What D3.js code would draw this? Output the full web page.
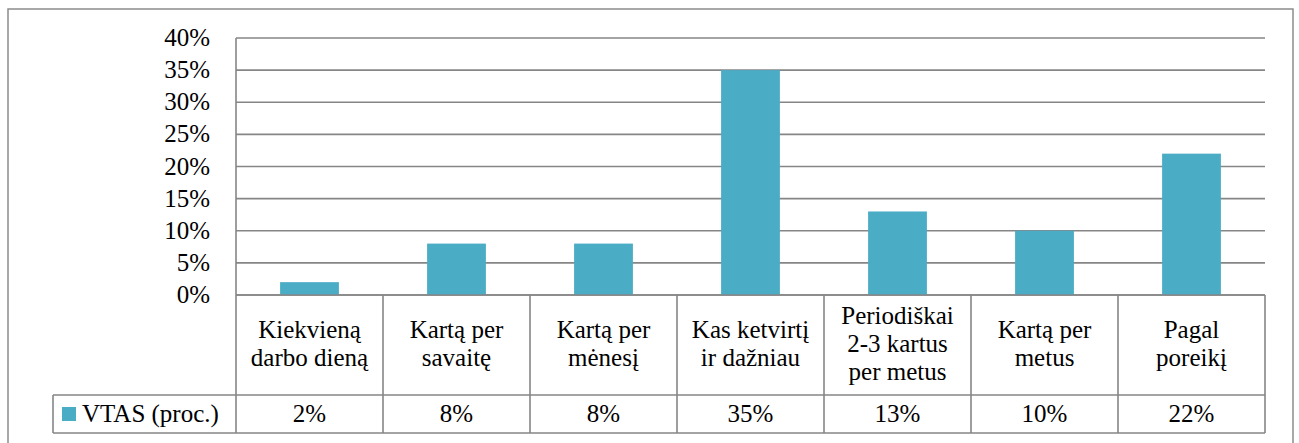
<!DOCTYPE html>
<html>
<head>
<meta charset="utf-8">
<script src="https://cdn.jsdelivr.net/npm/d3@7/dist/d3.min.js"></script>
<style>
  html, body { margin: 0; padding: 0; background: #ffffff; }
  svg text, svg tspan { font-family: 'Liberation Serif', 'Times New Roman', Times, serif !important; }
</style>
</head>
<body>
<svg id="chart" width="1299" height="443" font-family="Liberation Serif"></svg>
<script>
const categories = [
  ["Kiekvieną", "darbo dieną"],
  ["Kartą per", "savaitę"],
  ["Kartą per", "mėnesį"],
  ["Kas ketvirtį", "ir dažniau"],
  ["Periodiškai", "2-3 kartus", "per metus"],
  ["Kartą per", "metus"],
  ["Pagal", "poreikį"]
];
const seriesName = "VTAS (proc.)";
const values = [2, 8, 8, 35, 13, 10, 22];
const valueLabels = ["2%", "8%", "8%", "35%", "13%", "10%", "22%"];
const yTicks = [0, 5, 10, 15, 20, 25, 30, 35, 40];
const yTickLabels = ["0%", "5%", "10%", "15%", "20%", "25%", "30%", "35%", "40%"];

(function () {
const FONT = "'Liberation Serif'";
const svg = d3.select("#chart");
const pLeft = 236, pRight = 1265, pTop = 38, pBase = 295;
const row1 = 395, row2 = 433, legendLeft = 53;
const lineColor = "#868686";
const barColor = "#4BACC6";
const fontSize = 25;

function txt(sel) {
  return sel.attr("font-size", fontSize).attr("fill", "#000")
    .attr("font-family", "Liberation Serif").style("font-family", FONT);
}

// outer frame
svg.append("rect")
  .attr("x", 8).attr("y", 9).attr("width", 1285).attr("height", 460)
  .attr("fill", "none").attr("stroke", "#8c8c8c").attr("stroke-width", 1.5);

const x = d3.scaleBand().domain(d3.range(categories.length)).range([pLeft, pRight]).padding(0);
const y = d3.scaleLinear().domain([0, 40]).range([pBase, pTop]);

// gridlines
svg.append("g").selectAll("line").data(yTicks).join("line")
  .attr("x1", pLeft).attr("x2", pRight)
  .attr("y1", d => y(d)).attr("y2", d => y(d))
  .attr("stroke", lineColor).attr("stroke-width", 1.6);

// y axis line
svg.append("line").attr("x1", pLeft).attr("x2", pLeft).attr("y1", pTop).attr("y2", row2)
  .attr("stroke", lineColor).attr("stroke-width", 1.6);

// y tick labels
txt(svg.append("g").selectAll("text").data(yTicks).join("text"))
  .attr("x", 210).attr("y", d => y(d) + 8)
  .attr("text-anchor", "end")
  .text((d, i) => yTickLabels[i]);

// bars
const bw = x.bandwidth() * 0.4;
svg.append("g").selectAll("rect").data(values).join("rect")
  .attr("x", (d, i) => x(i) + (x.bandwidth() - bw) / 2)
  .attr("width", bw)
  .attr("y", d => y(d))
  .attr("height", d => y(0) - y(d))
  .attr("fill", barColor);

// table lines
const tl = svg.append("g").attr("stroke", lineColor).attr("stroke-width", 1.6);
tl.append("line").attr("x1", pLeft).attr("x2", pRight).attr("y1", pBase).attr("y2", pBase);
tl.append("line").attr("x1", legendLeft).attr("x2", pRight).attr("y1", row1).attr("y2", row1);
tl.append("line").attr("x1", legendLeft).attr("x2", pRight).attr("y1", row2).attr("y2", row2);
tl.append("line").attr("x1", legendLeft).attr("x2", legendLeft).attr("y1", row1).attr("y2", row2);
tl.selectAll("line.v").data(d3.range(1, categories.length + 1)).join("line")
  .attr("class", "v")
  .attr("x1", i => x(i - 1) + x.bandwidth()).attr("x2", i => x(i - 1) + x.bandwidth())
  .attr("y1", pBase).attr("y2", row2);

// category labels
const lh = 28;
const catMid = (pBase + row1) / 2;
const cg = svg.append("g");
categories.forEach((lines, i) => {
  const cx = x(i) + x.bandwidth() / 2;
  const first = catMid - (lines.length - 1) / 2 * lh + 7;
  const t = txt(cg.append("text")).attr("text-anchor", "middle");
  lines.forEach((ln, j) => {
    t.append("tspan").attr("x", cx).attr("y", first + j * lh).text(ln);
  });
});

// value labels
txt(svg.append("g").selectAll("text").data(valueLabels).join("text"))
  .attr("x", (d, i) => x(i) + x.bandwidth() / 2)
  .attr("y", (row1 + row2) / 2 + 8)
  .attr("text-anchor", "middle")
  .text(d => d);

// legend
svg.append("rect").attr("x", 62).attr("y", 407).attr("width", 14).attr("height", 14).attr("fill", barColor);
txt(svg.append("text")).attr("x", 82).attr("y", (row1 + row2) / 2 + 8)
  .text(seriesName);
})();
</script>
</body>
</html>
